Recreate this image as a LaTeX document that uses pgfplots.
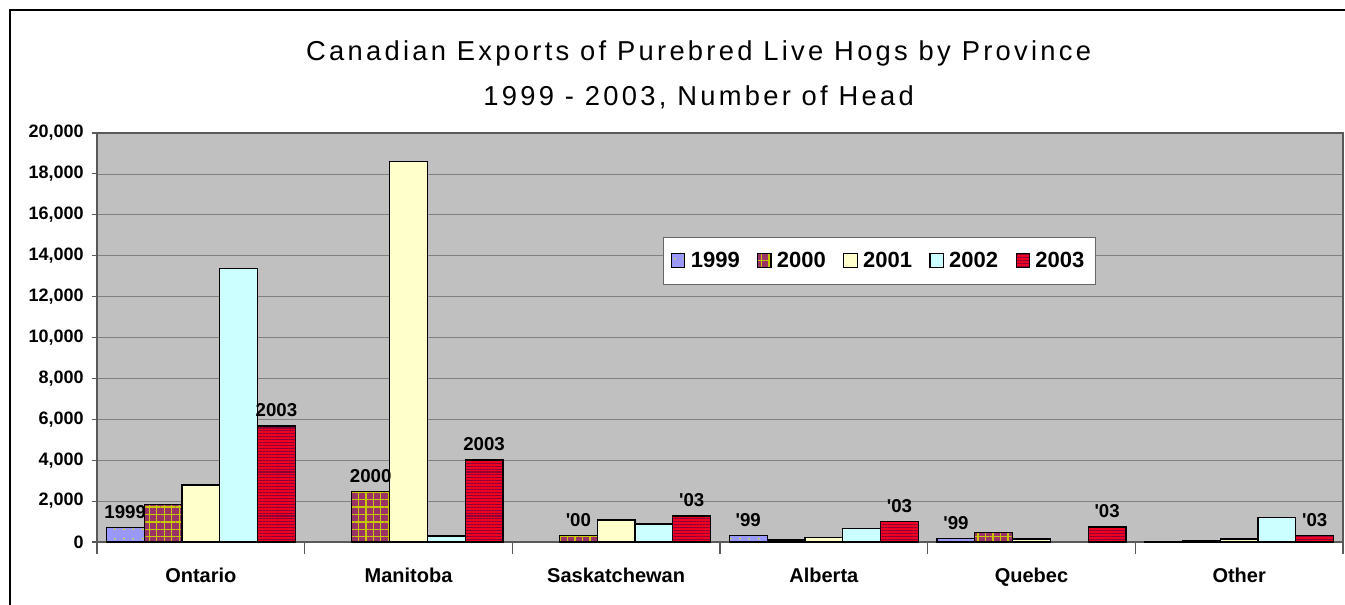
\documentclass[border=0pt]{standalone}
\usepackage{fontspec}
\setmainfont{Liberation Sans}
\usepackage{pgfplots}
\pgfplotsset{compat=1.18}
\usetikzlibrary{patterns.meta}

\definecolor{plotbg}{HTML}{C0C0C0}
\definecolor{gridc}{HTML}{808080}
\definecolor{c99}{HTML}{9999FF}
\definecolor{c99p}{HTML}{E0E030}
\definecolor{c00}{HTML}{993366}
\definecolor{c00p}{HTML}{C8C800}
\definecolor{c01}{HTML}{FFFFCC}
\definecolor{c02}{HTML}{CCFFFF}
\definecolor{c03}{HTML}{F00020}
\definecolor{c03p}{HTML}{8A0038}

\begin{document}
\begin{tikzpicture}
% canvas: 1345 x 604 px at 0.75pt per px
\useasboundingbox (0,0) rectangle (1008.75pt,453pt);
\draw[black, line width=0.8pt] (7.5pt,-20pt) rectangle (1030pt,445.5pt);

\node[font=\fontsize{20.5}{24}\selectfont\addfontfeature{LetterSpace=12}] at (524pt,413pt)
  {Canadian Exports of Purebred Live Hogs by Province};
\node[font=\fontsize{20.5}{24}\selectfont\addfontfeature{LetterSpace=12}] at (524pt,380pt)
  {1999 - 2003, Number of Head};

\begin{axis}[
    at={(72.75pt,46.5pt)}, anchor=south west,
    scale only axis,
    width=934.5pt, height=306.75pt,
    ybar=0pt,
    bar width=28.35pt,
    xmin=-0.5, xmax=5.5,
    ymin=0, ymax=20000,
    axis background/.style={fill=plotbg},
    axis line style={draw=black!65, line width=0.8pt},
    xtick={0,1,2,3,4,5},
    xticklabels={Ontario, Manitoba, Saskatchewan, Alberta, Quebec, Other},
    minor xtick={-0.5,0.5,1.5,2.5,3.5,4.5,5.5},
    major x tick style={draw=none},
    minor x tick style={draw=black!65, line width=0.8pt},
    minor tick length=9pt,
    xticklabel style={font=\bfseries\fontsize{15}{15}\selectfont, yshift=-12pt},
    ytick={0,2000,...,20000},
    ytick pos=left,
    xtick pos=bottom,
    tick align=outside,
    major tick length=4pt,
    ytick style={draw=black!65, line width=0.8pt},
    yticklabel style={font=\bfseries\fontsize{13.5}{14}\selectfont, xshift=-2.5pt},
    scaled y ticks=false,
    /pgf/number format/.cd, fixed, 1000 sep={,}, assume math mode=true,
    /pgfplots/.cd,
    ymajorgrids,
    grid style={draw=gridc, line width=0.6pt},
    point meta=explicit symbolic,
    nodes near coords,
    every node near coord/.append style={font=\bfseries\fontsize{14}{14}\selectfont, yshift=3pt},
    legend style={at={(0.454,0.746)}, anchor=north west, draw=black!60, fill=white,
        font=\bfseries\fontsize{16.5}{18}\selectfont, legend columns=5,
        inner xsep=6pt, inner ysep=9pt,
        /tikz/every odd column/.append style={column sep=2pt},
        /tikz/every even column/.append style={column sep=11pt}},
    legend image code/.code={\draw[#1] (0pt,-5pt) rectangle (10pt,5pt);},
]
\addplot[draw=black, line width=0.9pt, fill=c99,
  postaction={pattern={Dots[radius=0.7pt, distance=7pt, xshift=2pt]}, pattern color=c99p}]
  coordinates {(0,700) [1999] (3,300) [\textquotesingle 99] (4,180) [\textquotesingle 99] (5,30) []};
\addplot[draw=black, line width=0.9pt, fill=c00,
  postaction={pattern={Hatch[angle=0, distance=5.6pt, line width=1pt]}, pattern color=c00p}]
  coordinates {(0,1840) [] (1,2460) [2000] (2,310) [\textquotesingle 00] (3,100) [] (4,460) [] (5,60) []};
\addplot[draw=black, line width=0.9pt, fill=c01]
  coordinates {(0,2790) [] (1,18600) [] (2,1080) [] (3,210) [] (4,150) [] (5,150) []};
\addplot[draw=black, line width=0.9pt, fill=c02]
  coordinates {(0,13380) [] (1,290) [] (2,880) [] (3,650) [] (5,1210) []};
\addplot[draw=black, line width=0.9pt, fill=c03,
  postaction={pattern={Lines[angle=0, distance=2.2pt, line width=0.8pt]}, pattern color=c03p}]
  coordinates {(0,5670) [2003] (1,4010) [2003] (2,1270) [\textquotesingle 03] (3,990) [\textquotesingle 03] (4,730) [\textquotesingle 03] (5,310) [\textquotesingle 03]};
\legend{1999, 2000, 2001, 2002, 2003}
\end{axis}
\end{tikzpicture}
\end{document}
